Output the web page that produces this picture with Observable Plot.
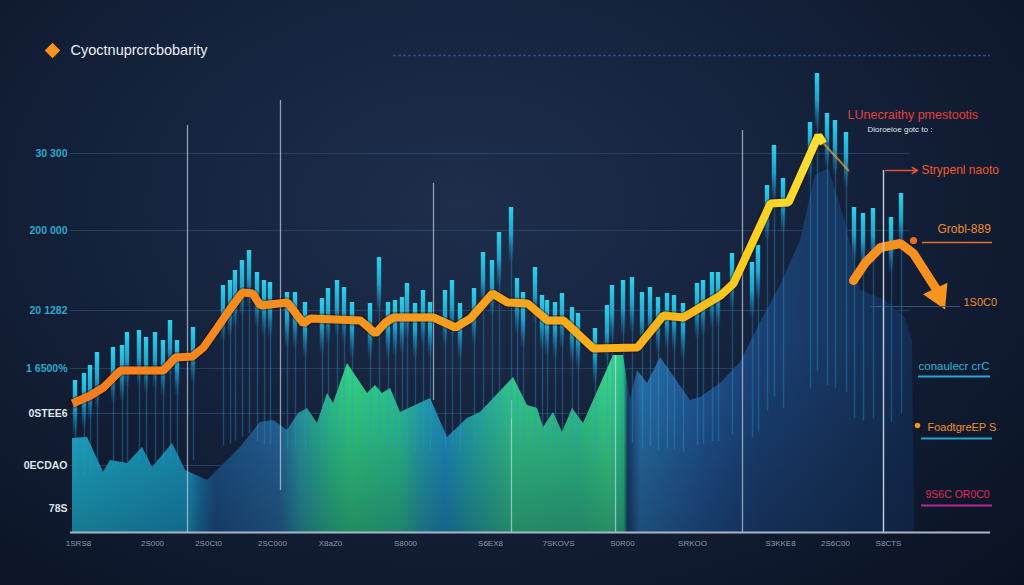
<!DOCTYPE html>
<html><head><meta charset="utf-8">
<script src="https://cdn.jsdelivr.net/npm/d3@7"></script>
<script src="https://cdn.jsdelivr.net/npm/@observablehq/plot@0.6"></script>
<style>
html,body{margin:0;padding:0;background:#0b1324;}
#chart{width:1024px;height:585px;overflow:hidden}
</style></head><body><div id="chart"></div>
<script>
// ---- data (x = period, v = value) ----
const titleText = "Cyoctnuprcrcbobarity";

const yTickValues = [75.8, 60.4, 44.4, 32.8, 23.8, 13.4, 4.8];
const yTickLabels = ["30 300", "200 000", "20 1282", "1 6500%", "0STEE6", "0ECDAO", "78S"];

const xTickValues = [0.8, 8.2, 13.8, 20.2, 26, 33.5, 42, 48.8, 55.2, 62.2, 71, 76.5, 81.8];
const xTickLabels = ["1SRS8", "2S000", "2S0Ct0", "2SC000", "X8aZ0", "S8000", "S6EX8", "7SKOVS", "S0R00", "SRKOO", "S3KKE8", "2S6C00", "S8CTS"];

// main price line
const priceX = [0.2, 2.0, 3.3, 5.0, 9.3, 10.5, 12.2, 13.3, 14.7, 16.0, 17.2, 18.2, 19.0, 21.7, 23.3, 24.0, 29.0, 30.5, 31.5, 32.3, 36.3, 38.5, 40.0, 42.2, 43.7, 45.7, 47.7, 49.3, 52.3, 56.7, 59.3, 61.3, 65.0, 66.3, 70.0, 71.8, 74.8, 75.3];
const priceV = [25.8, 27.4, 29.0, 32.4, 32.4, 35.0, 35.2, 37.0, 41.0, 44.8, 48.0, 47.8, 45.4, 46.0, 41.8, 42.8, 42.4, 39.8, 42.0, 43.0, 43.0, 41.0, 42.8, 47.8, 46.0, 45.8, 42.4, 42.4, 36.8, 37.0, 43.4, 43.0, 47.4, 49.8, 65.8, 66.0, 79.4, 77.8];
const tailX = [75.3, 77.8];
const tailV = [77.8, 72.4];
const forecastX = [78.3, 79.5, 81.0, 83.0, 84.3, 86.6];
const forecastV = [50.4, 54.0, 57.0, 57.8, 55.8, 48.6];

// volume-like spikes (top value of each spike)
const spikeX = [0.5, 1.4, 2.0, 2.7, 4.3, 5.2, 5.7, 6.9, 7.6, 8.5, 9.3, 10.0, 10.7, 12.3, 15.3, 16.0, 16.5, 17.2, 17.9, 18.7, 19.4, 20.0, 21.7, 22.5, 23.5, 25.2, 25.8, 26.7, 27.4, 28.2, 30.0, 30.9, 31.8, 32.5, 33.2, 33.7, 34.5, 35.3, 36.0, 37.5, 38.2, 39.0, 40.4, 41.3, 42.2, 42.9, 44.1, 44.7, 45.3, 46.5, 47.2, 47.7, 48.5, 49.2, 50.2, 50.8, 52.5, 53.7, 54.2, 55.3, 56.2, 57.2, 58.0, 58.8, 59.7, 60.4, 61.3, 62.7, 63.3, 64.2, 64.8, 66.2, 68.2, 68.8, 69.7, 70.4, 71.3, 74.0, 74.7, 75.7, 76.5, 77.6, 78.4, 79.3, 80.3, 82.1, 83.1];
const spikeV = [30.4, 31.8, 33.4, 36.0, 37.0, 37.4, 40.0, 40.4, 39.0, 40.0, 38.4, 42.4, 38.4, 41.0, 49.4, 50.4, 52.4, 54.4, 56.4, 52.0, 50.4, 50.0, 48.0, 48.0, 46.0, 46.8, 48.8, 50.4, 49.0, 46.0, 45.8, 55.0, 46.0, 46.4, 47.0, 49.8, 45.8, 48.4, 46.0, 48.4, 50.4, 45.8, 48.8, 56.0, 54.4, 60.0, 65.0, 50.8, 48.0, 53.0, 47.4, 46.4, 46.0, 47.8, 45.0, 43.8, 40.8, 45.4, 49.4, 50.4, 51.0, 48.0, 49.0, 47.0, 47.8, 47.4, 45.8, 49.8, 50.4, 52.0, 52.0, 55.8, 54.0, 57.4, 69.4, 77.4, 70.8, 82.0, 91.8, 83.8, 82.4, 80.0, 65.0, 63.8, 64.8, 63.0, 67.8];
// length of the bright head of each spike
const spikeHead = 11;

// thin guide lines
const guideX = [11.7, 21.0, 36.3, 44.1, 54.5, 67.2, 81.3];
const guideTop = [81.4, 86.4, 69.8, 26.4, 35.4, 80.4, 72.4];
const guideBottom = [0, 8.4, 26.4, 0, 0, 0, 0];

// mountain area
const areaX = [0.2, 1.7, 3.3, 4.0, 5.7, 7.2, 8.2, 10.2, 11.5, 13.7, 17.0, 19.0, 20.3, 21.7, 22.8, 23.7, 24.7, 25.7, 26.3, 27.7, 29.7, 30.5, 31.2, 32.0, 33.0, 36.0, 37.7, 39.7, 41.0, 44.3, 45.7, 46.7, 47.3, 48.3, 49.2, 50.2, 51.3, 54.3, 55.3, 56.0, 56.7, 57.7, 59.0, 62.0, 63.0, 65.0, 67.0, 69.0, 71.0, 73.0, 74.5, 75.8, 77.5, 79.0, 81.5, 83.5, 84.2, 84.4];
const areaV = [18.8, 19.0, 12.0, 14.4, 13.8, 17.0, 13.0, 17.8, 12.4, 10.4, 17.0, 22.0, 22.4, 20.4, 23.8, 24.8, 21.8, 27.8, 25.8, 33.8, 27.8, 29.4, 27.8, 28.8, 24.0, 26.8, 19.0, 22.8, 24.0, 31.0, 25.4, 24.8, 21.0, 24.0, 20.0, 24.8, 21.8, 35.4, 35.4, 26.4, 32.4, 29.8, 35.0, 26.4, 27.0, 29.8, 34.0, 42.0, 49.4, 58.4, 71.4, 72.8, 62.0, 48.4, 46.4, 42.8, 38.4, 0];

// right-side annotations
const noteTexts = ["LUnecraithy pmestootis", "Dioroeioe gotc to :", "Strypenl naoto", "Grobl-889", "1S0C0", "conaulecr crC", "FoadtgreEP S", "9S6C OR0C0"];
const noteX = [77.7, 79.7, 85.1, 86.7, 89.3, 84.8, 85.7, 85.5];
const noteV = [83.6, 80.6, 72.4, 60.6, 46.0, 33.2, 21.0, 7.6];

const underlineX1 = [85.2, 80.0, 84.8, 85.1, 85.1];
const underlineX2 = [92.2, 89.0, 92.0, 92.2, 92.2];
const underlineV = [58.0, 45.2, 31.2, 18.8, 5.4];

const markerX = [84.3, 84.7];
const markerV = [58.4, 21.4];

// ---- styles ----
const noteColors = ["#e53f3a", "#dfe6ee", "#f05a2a", "#f08c2c", "#f08c2c", "#2cb5d8", "#f0902a", "#e02a58"];
const noteSizes = [12.5, 8, 12, 12, 11, 11.5, 11, 10.5];
const noteWeights = ["bold", "normal", "bold", "bold", "normal", "bold", "bold", "normal"];
const underlineColors = ["#e8702a", "#34557e", "#2aa6d0", "#2aa0cc", "#b82890"];
const underlineWidths = [1.5, 1, 2, 2, 2];
const markerR = [6, 3.5];
const markerColors = ["#f06a28", "#f7931e"];

const areaStops = [
  [0, "#1fc3dd"], [0.14, "#1aa6d0"], [0.152, "#1a7cb4"], [0.17, "#1d5790"], [0.247, "#2a6fa8"],
  [0.27, "#2aa6b0"], [0.306, "#30d294"], [0.33, "#36e38c"], [0.39, "#2fd69a"], [0.413, "#27b4bc"],
  [0.443, "#1f9cd0"], [0.473, "#26b6b4"], [0.526, "#38dd92"], [0.603, "#34d694"], [0.639, "#3de890"],
  [0.655, "#2ad08c"], [0.66, "#17406e"], [0.675, "#2a78b4"], [0.746, "#21599a"], [0.817, "#1b4276"],
  [0.912, "#173762"], [1, "#132c52"]
];
const lineStops = [[0, "#f47b20"], [0.35, "#f7931d"], [0.6, "#f8a51b"], [0.82, "#f9b81a"], [0.9, "#f8cf1e"], [1, "#fbe034"]];

function defs() {
  const g = d3.create("svg:defs");
  const a = g.append("linearGradient").attr("id", "areaGrad").attr("x1", 0).attr("x2", 1).attr("y1", 0).attr("y2", 0);
  areaStops.forEach(([o, c]) => a.append("stop").attr("offset", o).attr("stop-color", c));
  const l = g.append("linearGradient").attr("id", "lineGrad").attr("x1", 0).attr("x2", 1).attr("y1", 0).attr("y2", 0);
  lineStops.forEach(([o, c]) => l.append("stop").attr("offset", o).attr("stop-color", c));
  const b = g.append("linearGradient").attr("id", "barGrad").attr("x1", 0).attr("x2", 0).attr("y1", 0).attr("y2", 1);
  [[0, "#2fd0ec", 1], [0.5, "#22b4dc", 0.85], [1, "#1a86c0", 0.05]]
    .forEach(([o, c, op]) => b.append("stop").attr("offset", o).attr("stop-color", c).attr("stop-opacity", op));
  const f = g.append("linearGradient").attr("id", "fadeGrad").attr("gradientUnits", "userSpaceOnUse")
    .attr("x1", 0).attr("x2", 0).attr("y1", 340).attr("y2", 532);
  f.append("stop").attr("offset", 0).attr("stop-color", "#0a1428").attr("stop-opacity", 0);
  f.append("stop").attr("offset", 1).attr("stop-color", "#0a1428").attr("stop-opacity", 0.4);
  return g.node();
}

const pts = (xs, vs) => xs.map((x, i) => ({x, v: vs[i]}));
const area = pts(areaX, areaV);
const price = pts(priceX, priceV);
const tail = pts(tailX, tailV);
const forecast = pts(forecastX, forecastV);
const spikes = pts(spikeX, spikeV);
const guides = guideX.map((x, i) => ({x, top: guideTop[i], bottom: guideBottom[i]}));
const notes = noteTexts.map((t, i) => ({t, x: noteX[i], v: noteV[i], c: noteColors[i], s: noteSizes[i], w: noteWeights[i]}));
const underlines = underlineV.map((v, i) => ({x1: underlineX1[i], x2: underlineX2[i], v, c: underlineColors[i], w: underlineWidths[i]}));
const markers = markerX.map((x, i) => ({x, v: markerV[i], r: markerR[i], c: markerColors[i]}));
const yTicks = yTickValues.map((v, i) => ({v, label: yTickLabels[i], c: i < 4 ? "#2aa9c9" : "#dfe4ea"}));
const xTicks = xTickValues.map((x, i) => ({x, label: xTickLabels[i]}));

const font = "Liberation Sans, Arial, sans-serif";

const chart = Plot.plot({
  width: 1024, height: 585,
  marginLeft: 70, marginRight: 34, marginTop: 32, marginBottom: 53,
  x: {domain: [0, 92], axis: null},
  y: {domain: [0, 100], axis: null},
  color: {type: "identity"},
  style: {
    background: "radial-gradient(ellipse at 45% 35%, #1e2e4b 0%, #15223c 45%, #0a1222 100%)",
    fontFamily: font, overflow: "visible"
  },
  marks: [
    defs,
    // top dotted rule
    Plot.ruleY([95.4], {x1: 32.3, x2: 92, stroke: "#2b4c7e", strokeWidth: 1.5, strokeDasharray: "3,2"}),
    // grid
    Plot.ruleY(yTicks, {y: "v", x1: 0, x2: 84, stroke: "#2e4a6e", strokeOpacity: 0.75, strokeWidth: 1}),
    // mountain
    Plot.areaY(area, {x: "x", y: "v", fill: "url(#areaGrad)", fillOpacity: 0.97}),
    Plot.areaY(area, {x: "x", y: "v", fill: "url(#fadeGrad)"}),
    // guide lines
    Plot.ruleX(guides, {x: "x", y1: "bottom", y2: "top", stroke: "#bcd6ea", strokeOpacity: 0.7, strokeWidth: 1.3}),
    // spikes: faint stem + bright head
    Plot.ruleX(spikes, {x: "x", y1: d => d.v * 0.35, y2: "v", stroke: "#2a9ad0", strokeOpacity: 0.35, strokeWidth: 1.5}),
    Plot.rectY(spikes, {x1: d => d.x - 0.22, x2: d => d.x + 0.22, y1: d => d.v - spikeHead, y2: "v", fill: "url(#barGrad)"}),
    // price line
    Plot.line(price, {x: "x", y: "v", stroke: "#1a1208", strokeOpacity: 0.35, strokeWidth: 11, strokeLinejoin: "miter"}),
    Plot.line(price, {x: "x", y: "v", stroke: "url(#lineGrad)", strokeWidth: 8, strokeLinejoin: "miter", strokeLinecap: "butt"}),
    Plot.line(tail, {x: "x", y: "v", stroke: "#e8a030", strokeOpacity: 0.7, strokeWidth: 2}),
    Plot.line(forecast, {x: "x", y: "v", stroke: "#f7901e", strokeWidth: 9, strokeLinejoin: "miter"}),
    Plot.dot([forecast[forecast.length - 1]], {x: "x", y: "v", symbol: "triangle", r: 10, rotate: 155, fill: "#f7941d", dx: 2, dy: 6}),
    // baseline
    Plot.ruleY([0], {stroke: "#a9b5c6", strokeWidth: 2}),
    // ticks
    Plot.text(yTicks, {y: "v", text: "label", fill: "c", frameAnchor: "left", dx: -3, textAnchor: "end", fontSize: 10.5, fontWeight: "bold"}),
    Plot.text(xTicks, {x: "x", text: "label", frameAnchor: "bottom", dy: 13, fill: "#8b97a8", fontSize: 8}),
    // annotations
    Plot.ruleY(underlines, {y: "v", x1: "x1", x2: "x2", stroke: "c", strokeWidth: "w"}),
    Plot.arrow([{x1: 81.5, x2: 84.7, v: 72.4}], {x1: "x1", x2: "x2", y1: "v", y2: "v", stroke: "#e0503a", strokeWidth: 1.5, headLength: 6}),
    Plot.ruleX([{x: 81.3, v: 72.4}], {x: "x", y1: 0, y2: "v", stroke: "#c8d8e8", strokeOpacity: 0.8, strokeWidth: 1.3}),
    Plot.dot(markers, {x: "x", y: "v", r: "r", fill: "c"}),
    Plot.text(notes, {x: "x", y: "v", text: "t", fill: "c", fontSize: d => d.s, fontWeight: d => d.w, textAnchor: "start"}),
    // title
    Plot.dot([{x: -1.8, v: 96.4}], {x: "x", y: "v", symbol: "diamond2", r: 7, fill: "#f7941d"}),
    Plot.text([{x: 0, v: 96.4, t: titleText}], {x: "x", y: "v", text: "t", fill: "#e8eef5", fontSize: 14.5, textAnchor: "start"})
  ]
});
document.getElementById("chart").appendChild(chart);
</script></body></html>
